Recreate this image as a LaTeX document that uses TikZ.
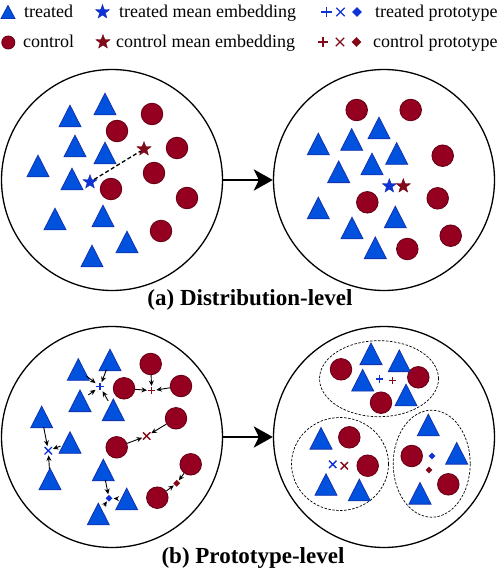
\documentclass[tikz,border=0pt]{standalone}
\usepackage{fontspec}
\setmainfont{Liberation Serif}
\usetikzlibrary{arrows.meta,shapes.geometric,calc}
\definecolor{tblue}{RGB}{0,82,222}
\definecolor{tblueD}{RGB}{20,50,175}
\definecolor{cred}{RGB}{150,0,32}
\definecolor{credD}{RGB}{105,0,22}
\definecolor{sblue}{RGB}{15,50,215}
\definecolor{sred}{RGB}{130,10,25}
\tikzset{
  tnode/.style={circle, minimum size=20pt, inner sep=0pt},
  trifill/.style={fill=tblue, draw=tblueD, line width=0.8pt, line join=miter},
  cnode/.style={circle, minimum size=21.5pt, inner sep=0pt, fill=cred, draw=credD, line width=0.9pt},
  bigc/.style={circle, draw=black, line width=1.3pt, minimum size=221pt, inner sep=0pt},
  starb/.style={star, star points=5, star point ratio=2.4, minimum size=15pt, inner sep=0pt, fill=sblue, draw=tblueD, line width=0.3pt},
  starr/.style={star, star points=5, star point ratio=2.4, minimum size=15pt, inner sep=0pt, fill=sred, draw=credD, line width=0.3pt},
  ptr/.style={-{Stealth[length=5.5pt,width=5pt]}, line width=0.9pt, shorten >=1pt},
  bigarrow/.style={line width=2.8pt, -{Stealth[length=19pt,width=21pt,inset=5pt]}},
  pbox/.style={rectangle, minimum size=#1, inner sep=0pt},
  pline/.style={line width=1.4pt},
  cluster/.style={ellipse, draw=black, line width=0.7pt, dash pattern=on 2.5pt off 1.5pt, inner sep=0pt},
  legtxt/.style={anchor=base west, inner sep=0pt, font=\fontsize{18}{20}\selectfont},
  captxt/.style={anchor=base, inner sep=0pt, font=\fontsize{23}{26}\selectfont\bfseries},
}
\newcommand{\mytri}[3]{\node[tnode] (#1) at (#2,#3) {};
  \path[trifill,shift={(#2,#3)}] (-11,10.8) -- (11,10.8) -- (0,-10.8) -- cycle;}
\newcommand{\mycirc}[3]{\node[cnode] (#1) at (#2,#3) {};}
\newcommand{\pplus}[5]{\node[pbox=#5] (#1) at (#2,#3) {};
  \draw[#4,pline] (#1.north) -- (#1.south) (#1.west) -- (#1.east);}
\newcommand{\pcross}[5]{\node[pbox=#5] (#1) at (#2,#3) {};
  \draw[#4,pline] (#1.north west) -- (#1.south east) (#1.north east) -- (#1.south west);}
\newcommand{\pdiam}[5]{\node[diamond, fill=#4, minimum size=#5, inner sep=0pt] (#1) at (#2,#3) {};}
\begin{document}
\begin{tikzpicture}[x=1pt,y=-1pt]
\useasboundingbox (0,0) rectangle (500,570);
% ---------- legend ----------
\node[tnode, minimum size=12pt] (lgt) at (8,12) {};
\path[trifill,shift={(8,12)}] (-7,6.5) -- (7,6.5) -- (0,-6.5) -- cycle;
\node[legtxt] (lgtt) at (24,17) {treated};
\node[cnode, minimum size=13pt] (lgc) at (8.3,42.5) {};
\node[legtxt] (lgct) at (23,47) {control};
\node[starb] (lgsb) at (102.5,12) {};
\node[legtxt] (lgsbt) at (119,17) {treated mean embedding};
\node[starr] (lgsr) at (103,42) {};
\node[legtxt] (lgsrt) at (116,47) {control mean embedding};
\pplus{lgpb}{326.5}{12}{sblue}{10pt}
\pcross{lgxb}{340.5}{12}{sblue}{8pt}
\pdiam{lgdb}{357}{12}{sblue}{10pt}
\node[legtxt] (lgpbt) at (375,17) {treated prototype};
\pplus{lgpr}{323}{42}{sred}{10pt}
\pcross{lgxr}{340}{42}{sred}{8pt}
\pdiam{lgdr}{356.5}{42}{sred}{10pt}
\node[legtxt] (lgprt) at (373,47) {control prototype};
% ---------- big circles ----------
\node[bigc] (TL) at (112,180) {};
\node[bigc] (TR) at (384,180) {};
\node[bigc] (BL) at (112,437) {};
\node[bigc] (BR) at (384,437) {};
\draw[bigarrow] (TL.east) -- (TR.west);
\draw[bigarrow] (BL.east) -- (BR.west);
% ---------- (a) left ----------
\mytri{a1}{105}{104} \mytri{a2}{70}{116} \mytri{a3}{75}{146} \mytri{a4}{105}{153}
\mytri{a5}{38}{166} \mytri{a6}{72}{179} \mytri{a7}{55}{219} \mytri{a8}{103}{216}
\mytri{a9}{127}{242} \mytri{a10}{92}{256}
\mycirc{ac1}{152}{114} \mycirc{ac2}{117}{131} \mycirc{ac3}{177}{148} \mycirc{ac4}{154}{173}
\mycirc{ac5}{111}{189} \mycirc{ac6}{187}{198} \mycirc{ac7}{161}{231}
\node[starb] (asb) at (90,182) {};
\node[starr] (asr) at (144,149) {};
\draw[line width=1.3pt, dash pattern=on 4pt off 2.5pt] (asb) -- (asr);
% ---------- (a) right ----------
\mycirc{bc1}{356.7}{110} \mycirc{bc2}{410.7}{110} \mycirc{bc3}{442.7}{155.7} \mycirc{bc4}{367.3}{202.3}
\mycirc{bc5}{437.7}{198.3} \mycirc{bc6}{450.7}{235.7} \mycirc{bc7}{407.3}{249}
\mytri{b1}{379}{128} \mytri{b2}{351.7}{139.5} \mytri{b3}{318.3}{144} \mytri{b4}{396.7}{153.5}
\mytri{b5}{372}{164} \mytri{b6}{338.7}{171.8} \mytri{b7}{318.3}{208} \mytri{b8}{395.3}{217}
\mytri{b9}{352}{228} \mytri{b10}{375.3}{247.8}
\node[starb] (bsb) at (389.3,186) {};
\node[starr] (bsr) at (403.3,186) {};
\node[captxt] (capa) at (250,305) {(a) Distribution-level};
% ---------- (b) left ----------
\mytri{c1}{78.3}{369.5} \mytri{c2}{110}{360} \mytri{c3}{80}{400.8} \mytri{c4}{113.3}{409.8}
\mytri{c5}{41.7}{417} \mytri{c6}{70}{442.5} \mytri{c7}{50}{479} \mytri{c8}{103.3}{470}
\mytri{c9}{126.7}{499} \mytri{c10}{98.3}{514}
\mycirc{cc1}{150.7}{364} \mycirc{cc2}{124}{388.3} \mycirc{cc3}{181}{386} \mycirc{cc4}{176}{418.3}
\mycirc{cc5}{116.7}{447.3} \mycirc{cc6}{190.7}{464.3} \mycirc{cc7}{157.3}{497.7}
\pplus{cpb}{100}{386.7}{sblue}{7pt}
\pplus{cpr}{151.7}{390.7}{sred}{7pt}
\pcross{cxb}{48.3}{450.7}{sblue}{7pt}
\pcross{cxr}{146.7}{436}{sred}{7pt}
\pdiam{cdb}{109}{498.3}{sblue}{7pt}
\pdiam{cdr}{176.7}{483.3}{sred}{7pt}
\foreach \s in {c1,c2,c3,c4} \draw[ptr] (\s) -- (cpb);
\foreach \s in {cc1,cc2,cc3} \draw[ptr] (\s) -- (cpr);
\foreach \s in {c5,c6,c7} \draw[ptr] (\s) -- (cxb);
\foreach \s in {cc4,cc5} \draw[ptr] (\s) -- (cxr);
\foreach \s in {c8,c9,c10} \draw[ptr] (\s) -- (cdb);
\foreach \s in {cc6,cc7} \draw[ptr] (\s) -- (cdr);
% ---------- (b) right ----------
\node[cluster, minimum width=119pt, minimum height=76pt] (e1) at (379,378.7) {};
\node[cluster, minimum width=97pt, minimum height=93pt] (e2) at (340,464) {};
\node[cluster, minimum width=77pt, minimum height=107pt] (e3) at (431.7,463.7) {};
\mycirc{dc1}{341}{369.3} \mycirc{dc2}{418.3}{377.3} \mycirc{dc3}{381}{402.7}
\mytri{d1}{371}{353.8} \mytri{d2}{399.3}{360.8} \mytri{d3}{362.7}{380.2} \mytri{d4}{406}{395}
\pplus{dpb}{379.3}{379}{sblue}{7pt}
\pplus{dpr}{392.7}{380.7}{sred}{7pt}
\mytri{d5}{321}{438.3} \mytri{d6}{326}{484.5} \mytri{d7}{359.3}{490}
\mycirc{dc4}{349.3}{437.3} \mycirc{dc5}{367.7}{465.7}
\pcross{dxb}{332.7}{464.3}{sblue}{7pt}
\pcross{dxr}{344.3}{465.7}{sred}{7pt}
\mytri{d8}{428.3}{425} \mytri{d9}{456.7}{453.3} \mytri{d10}{420}{493.3}
\mycirc{dc6}{411.7}{456} \mycirc{dc7}{448.3}{484.3}
\pdiam{ddb}{432}{456}{sblue}{7pt}
\pdiam{ddr}{429}{470}{sred}{7pt}
\node[captxt] (capb) at (253,563) {(b) Prototype-level};
\end{tikzpicture}
\end{document}
